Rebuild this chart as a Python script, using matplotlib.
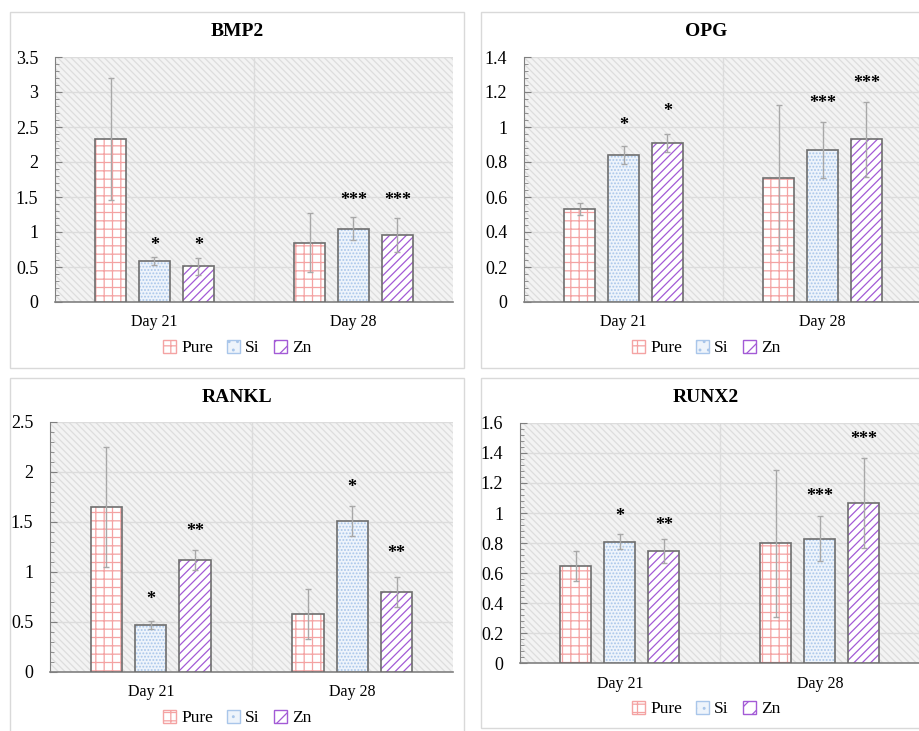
import matplotlib
matplotlib.use("Agg")
import matplotlib.pyplot as plt
from matplotlib.patches import Rectangle, Patch
from matplotlib.ticker import MultipleLocator
import numpy as np

plt.rcParams['font.family'] = ['Liberation Serif', 'DejaVu Serif']
plt.rcParams['hatch.linewidth'] = 0.9

days = ['Day 21', 'Day 28']
groups = ['Pure', 'Si', 'Zn']

# values per gene: rows = groups (Pure, Si, Zn), columns = days
bmp2_mean = [[2.33, 0.85], [0.59, 1.05], [0.51, 0.96]]
bmp2_err = [[0.87, 0.42], [0.055, 0.16], [0.12, 0.24]]
bmp2_sig = [['', ''], ['*', '***'], ['*', '***']]
bmp2_sig_y = [[0, 0], [0.80, 1.45], [0.80, 1.45]]

opg_mean = [[0.53, 0.71], [0.84, 0.87], [0.91, 0.93]]
opg_err = [[0.035, 0.415], [0.05, 0.16], [0.05, 0.215]]
opg_sig = [['', ''], ['*', '***'], ['*', '***']]
opg_sig_y = [[0, 0], [1.01, 1.135], [1.09, 1.25]]

rankl_mean = [[1.65, 0.58], [0.47, 1.51], [1.12, 0.80]]
rankl_err = [[0.60, 0.25], [0.04, 0.15], [0.10, 0.15]]
rankl_sig = [['', ''], ['*', '*'], ['**', '**']]
rankl_sig_y = [[0, 0], [0.72, 1.84], [1.41, 1.18]]

runx2_mean = [[0.65, 0.80], [0.81, 0.83], [0.75, 1.07]]
runx2_err = [[0.10, 0.49], [0.05, 0.15], [0.08, 0.30]]
runx2_sig = [['', ''], ['*', '***'], ['**', '***']]
runx2_sig_y = [[0, 0], [0.975, 1.11], [0.92, 1.49]]

face_cols = ['white', '#eef4fb', 'white']
hatch_cols = ['#f4a3a3', '#a9c6ea', '#a35ad6']
hatches = ['++', '.....', '////']

W, H = 920, 731
fig = plt.figure(figsize=(W / 100, H / 100), dpi=100)


def px(x, y):
    return x / W, 1 - y / H


# panel frames
for (x0, y0, x1, y1) in [(10, 12, 464, 368), (481, 12, 935, 368),
                         (10, 378, 464, 735), (481, 378, 935, 728)]:
    fig.patches.append(Rectangle((x0 / W, 1 - y1 / H), (x1 - x0) / W, (y1 - y0) / H,
                                 transform=fig.transFigure, facecolor='white',
                                 edgecolor='#d9d9d9', lw=1, zorder=0))


def panel(rect, title, title_xy, leg_xy, mean, err, sig, sig_y, ymax, step):
    ax = fig.add_axes(rect)
    ax.set_zorder(1)
    ax.set_facecolor('none')
    ax.add_patch(Rectangle((0, 0), 1, 1, transform=ax.transAxes, facecolor='#f3f3f3',
                           edgecolor='#dddddd', hatch='\\\\\\\\\\', lw=0, zorder=0))
    x = np.arange(len(days))
    width = 0.155
    offs = [-0.22, 0, 0.22]
    for i in range(3):
        ax.bar(x + offs[i], mean[i], width, color=face_cols[i], edgecolor=hatch_cols[i],
               hatch=hatches[i], lw=0, zorder=3)
        ax.bar(x + offs[i], mean[i], width, fill=False, edgecolor='#6e6e6e', lw=1.2, zorder=4)
        ax.errorbar(x + offs[i], mean[i], yerr=err[i], fmt='none', ecolor='#a8a8a8',
                    elinewidth=1, capsize=2.5, capthick=1, zorder=5)
        for j in range(len(days)):
            if sig[i][j]:
                ax.text(x[j] + offs[i], sig_y[i][j], sig[i][j], ha='center', va='center',
                        fontsize=13, fontweight='bold', zorder=6)
    ax.set_xlim(-0.5, 1.5)
    ax.set_ylim(0, ymax)
    ax.yaxis.set_major_locator(MultipleLocator(step))
    ax.yaxis.set_minor_locator(MultipleLocator(step / 5))
    ax.yaxis.set_major_formatter(plt.FuncFormatter(lambda v, p: f'{v:g}'))
    ax.grid(axis='y', color='#dcdcdc', lw=1, zorder=1)
    ax.axvline(0.5, color='#dcdcdc', lw=1, zorder=1)
    ax.set_axisbelow(True)
    ax.set_xticks(x)
    ax.set_xticklabels(days, fontsize=11.5)
    ax.tick_params(axis='x', length=0, pad=9)
    ax.tick_params(axis='y', which='major', direction='in', length=5, color='#808080',
                   labelsize=13, pad=12)
    ax.tick_params(axis='y', which='minor', direction='in', length=3, color='#808080')
    for s in ['top', 'right']:
        ax.spines[s].set_visible(False)
    ax.spines['left'].set_color('#808080')
    ax.spines['bottom'].set_color('#808080')
    ax.spines['bottom'].set_linewidth(1.2)
    fig.text(*px(*title_xy), title, ha='center', va='center', fontsize=14, fontweight='bold')
    handles = [Patch(facecolor=face_cols[i], edgecolor=hatch_cols[i], hatch=hatches[i][:1] * 2,
                     lw=1) for i in range(3)]
    fig.legend(handles, groups, loc='center', bbox_to_anchor=px(*leg_xy), ncol=3,
               frameon=False, fontsize=12.5, handlelength=0.75, handleheight=0.75,
               handletextpad=0.3, columnspacing=0.8)
    return ax


panel([55 / W, 1 - 302 / H, 398 / W, 245 / H], 'BMP2', (237, 31), (237, 348),
      bmp2_mean, bmp2_err, bmp2_sig, bmp2_sig_y, 3.5, 0.5)
panel([524 / W, 1 - 302 / H, 398 / W, 245 / H], 'OPG', (706, 31), (706, 348),
      opg_mean, opg_err, opg_sig, opg_sig_y, 1.4, 0.2)
panel([50 / W, 1 - 672 / H, 403 / W, 250 / H], 'RANKL', (237, 397), (237, 718),
      rankl_mean, rankl_err, rankl_sig, rankl_sig_y, 2.5, 0.5)
panel([520 / W, 1 - 663 / H, 400 / W, 240 / H], 'RUNX2', (706, 397), (706, 709),
      runx2_mean, runx2_err, runx2_sig, runx2_sig_y, 1.6, 0.2)

fig.savefig('out.png', dpi=100)
